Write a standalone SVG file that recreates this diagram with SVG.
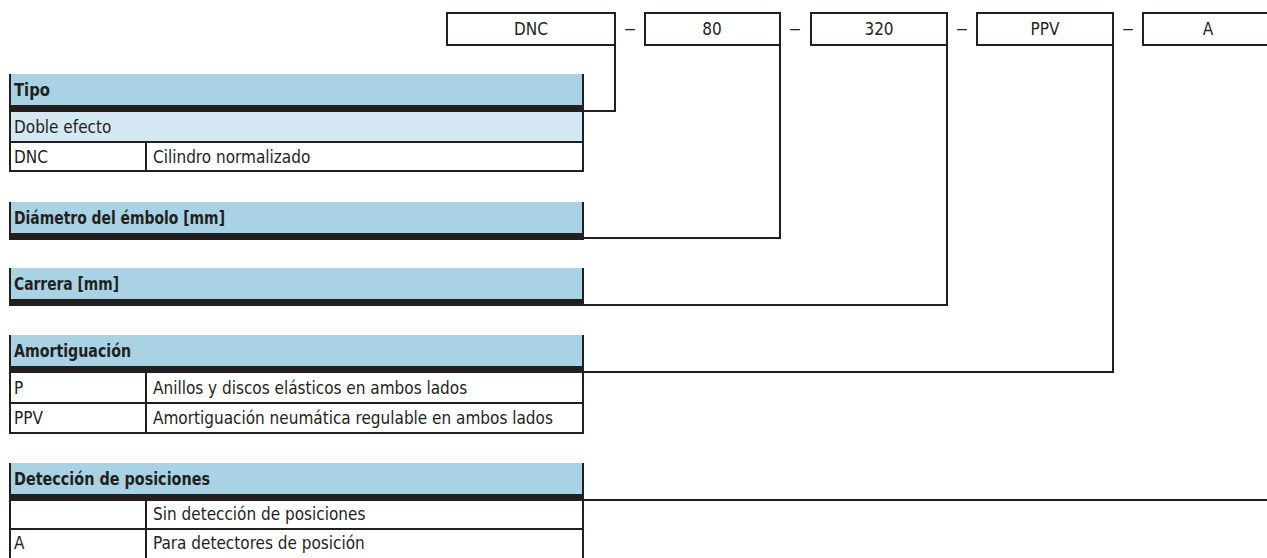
<svg xmlns="http://www.w3.org/2000/svg" width="1267" height="558" viewBox="0 0 1267 558">
<style>
text{font-family:"DejaVu Sans Condensed","DejaVu Sans",sans-serif;font-stretch:condensed;font-size:17px;fill:#231f20}
.h{font-weight:bold}
.c{text-anchor:middle}
.hd{fill:#a9d3e5}
.bar{fill:#231f20}
.lt{fill:#d4e8f3}
.ln{stroke:#231f20;stroke-width:2;fill:none}
.box{fill:#fff;stroke:#231f20;stroke-width:2}
</style>
<g id="code">
<rect class="box" x="447" y="13" width="168" height="32"/>
<text class="c" x="531" y="35">DNC</text>
<text x="624" y="34" textLength="12" lengthAdjust="spacingAndGlyphs">–</text>
<rect class="box" x="645" y="13" width="135" height="32"/>
<text class="c" x="712" y="35">80</text>
<text x="789" y="34" textLength="12" lengthAdjust="spacingAndGlyphs">–</text>
<rect class="box" x="811" y="13" width="136" height="32"/>
<text class="c" x="879" y="35">320</text>
<text x="956" y="34" textLength="12" lengthAdjust="spacingAndGlyphs">–</text>
<rect class="box" x="977" y="13" width="136" height="32"/>
<text class="c" x="1045" y="35">PPV</text>
<text x="1122" y="34" textLength="12" lengthAdjust="spacingAndGlyphs">–</text>
<rect class="box" x="1143" y="13" width="140" height="32"/>
<text class="c" x="1208" y="35">A</text>
</g>
<g id="tipo">
<rect class="hd" x="10" y="74" width="573" height="31"/>
<rect class="bar" x="10" y="105" width="573" height="7"/>
<rect class="lt" x="10" y="112" width="573" height="30"/>
<path class="ln" d="M10,74V171H583V74M10,142H583M146,142V171"/>
<text class="h" x="14" y="96" textLength="36" lengthAdjust="spacingAndGlyphs">Tipo</text>
<text x="14" y="133">Doble efecto</text>
<text x="14" y="163">DNC</text>
<text x="153" y="163">Cilindro normalizado</text>
</g>
<g id="diametro">
<rect class="hd" x="10" y="202" width="573" height="31"/>
<rect class="bar" x="10" y="233" width="573" height="7"/>
<path class="ln" d="M10,202V240M583,202V240"/>
<text class="h" x="14" y="224" textLength="211" lengthAdjust="spacingAndGlyphs">Diámetro del émbolo [mm]</text>
</g>
<g id="carrera">
<rect class="hd" x="10" y="268" width="573" height="31"/>
<rect class="bar" x="10" y="299" width="573" height="7"/>
<path class="ln" d="M10,268V306M583,268V306"/>
<text class="h" x="14" y="290" textLength="105" lengthAdjust="spacingAndGlyphs">Carrera [mm]</text>
</g>
<g id="amortiguacion">
<rect class="hd" x="10" y="335" width="573" height="31"/>
<rect class="bar" x="10" y="366" width="573" height="7"/>
<path class="ln" d="M10,335V433H583V335M10,403H583M146,373V433"/>
<text class="h" x="14" y="357" textLength="117" lengthAdjust="spacingAndGlyphs">Amortiguación</text>
<text x="14" y="394">P</text>
<text x="153" y="394">Anillos y discos elásticos en ambos lados</text>
<text x="14" y="424">PPV</text>
<text x="153" y="424">Amortiguación neumática regulable en ambos lados</text>
</g>
<g id="deteccion">
<rect class="hd" x="10" y="463" width="573" height="31"/>
<rect class="bar" x="10" y="494" width="573" height="7"/>
<path class="ln" d="M10,463V558M583,463V558M10,529H583M146,501V558"/>
<text class="h" x="14" y="485" textLength="196" lengthAdjust="spacingAndGlyphs">Detección de posiciones</text>
<text x="153" y="520">Sin detección de posiciones</text>
<text x="14" y="549">A</text>
<text x="153" y="549">Para detectores de posición</text>
</g>
<g id="connectors">
<path class="ln" d="M615,45V111H583"/>
<path class="ln" d="M780,45V238H583"/>
<path class="ln" d="M947,45V305H583"/>
<path class="ln" d="M1113,45V372H583"/>
<path class="ln" d="M583,500H1267"/>
</g>
</svg>
